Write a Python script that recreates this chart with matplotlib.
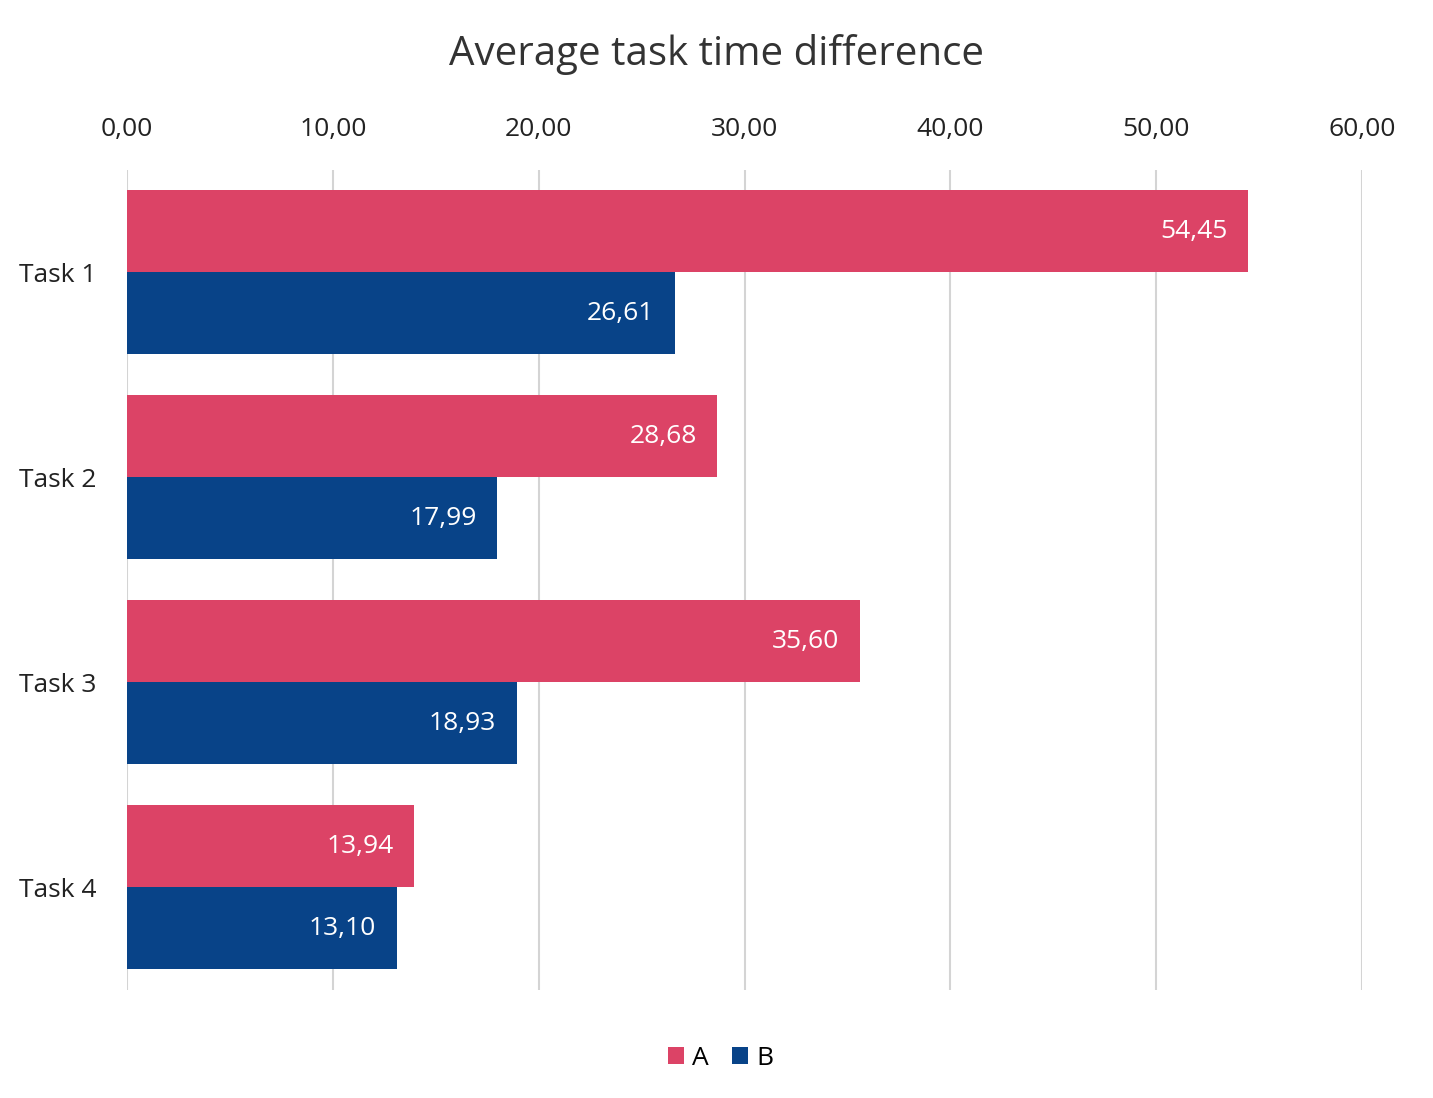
import matplotlib
matplotlib.use("Agg")
import matplotlib.pyplot as plt
import numpy as np

tasks = ["Task 1", "Task 2", "Task 3", "Task 4"]
values_a = [54.45, 28.68, 35.60, 13.94]
values_b = [26.61, 17.99, 18.93, 13.10]
x_ticks = [0, 10, 20, 30, 40, 50, 60]

color_a = "#DC4366"
color_b = "#084388"

plt.rcParams["font.family"] = ["Open Sans", "DejaVu Sans"]


def fmt(v):
    return f"{v:.2f}".replace(".", ",")


fig = plt.figure(figsize=(14.33, 10.98), dpi=100)
ax = fig.add_axes([0.0886, 0.0984, 0.8619, 0.7468])

pos = np.arange(len(tasks))
h = 0.4
bars_a = ax.barh(pos - h / 2, values_a, height=h, color=color_a, label="A", zorder=2)
bars_b = ax.barh(pos + h / 2, values_b, height=h, color=color_b, label="B", zorder=2)

for bars, vals in ((bars_a, values_a), (bars_b, values_b)):
    for bar, v in zip(bars, vals):
        ax.text(bar.get_width() - 1.0, bar.get_y() + bar.get_height() / 2, fmt(v),
                ha="right", va="center", color="white", fontsize=19, zorder=3)

ax.set_xlim(0, 60)
ax.set_ylim(3.5, -0.5)
ax.set_xticks(x_ticks)
ax.set_xticklabels([fmt(t) for t in x_ticks])
ax.xaxis.tick_top()
ax.tick_params(axis="x", length=0, pad=20, labelsize=19, labelcolor="#222222")
ax.set_yticks(pos)
ax.set_yticklabels(tasks)
ax.tick_params(axis="y", length=0, pad=22, labelsize=19, labelcolor="#222222")
ax.grid(axis="x", color="#d4d4d4", linewidth=1.5, zorder=0)
for s in ax.spines.values():
    s.set_visible(False)

fig.suptitle("Average task time difference", y=0.969, fontsize=29, color="#333333")

fig.legend(loc="center", bbox_to_anchor=(0.503, 0.036), ncol=2, frameon=False,
           fontsize=19, handlelength=0.6, handleheight=0.6, handletextpad=0.3,
           columnspacing=0.9)

fig.savefig("out.png", dpi=100, facecolor="white")
